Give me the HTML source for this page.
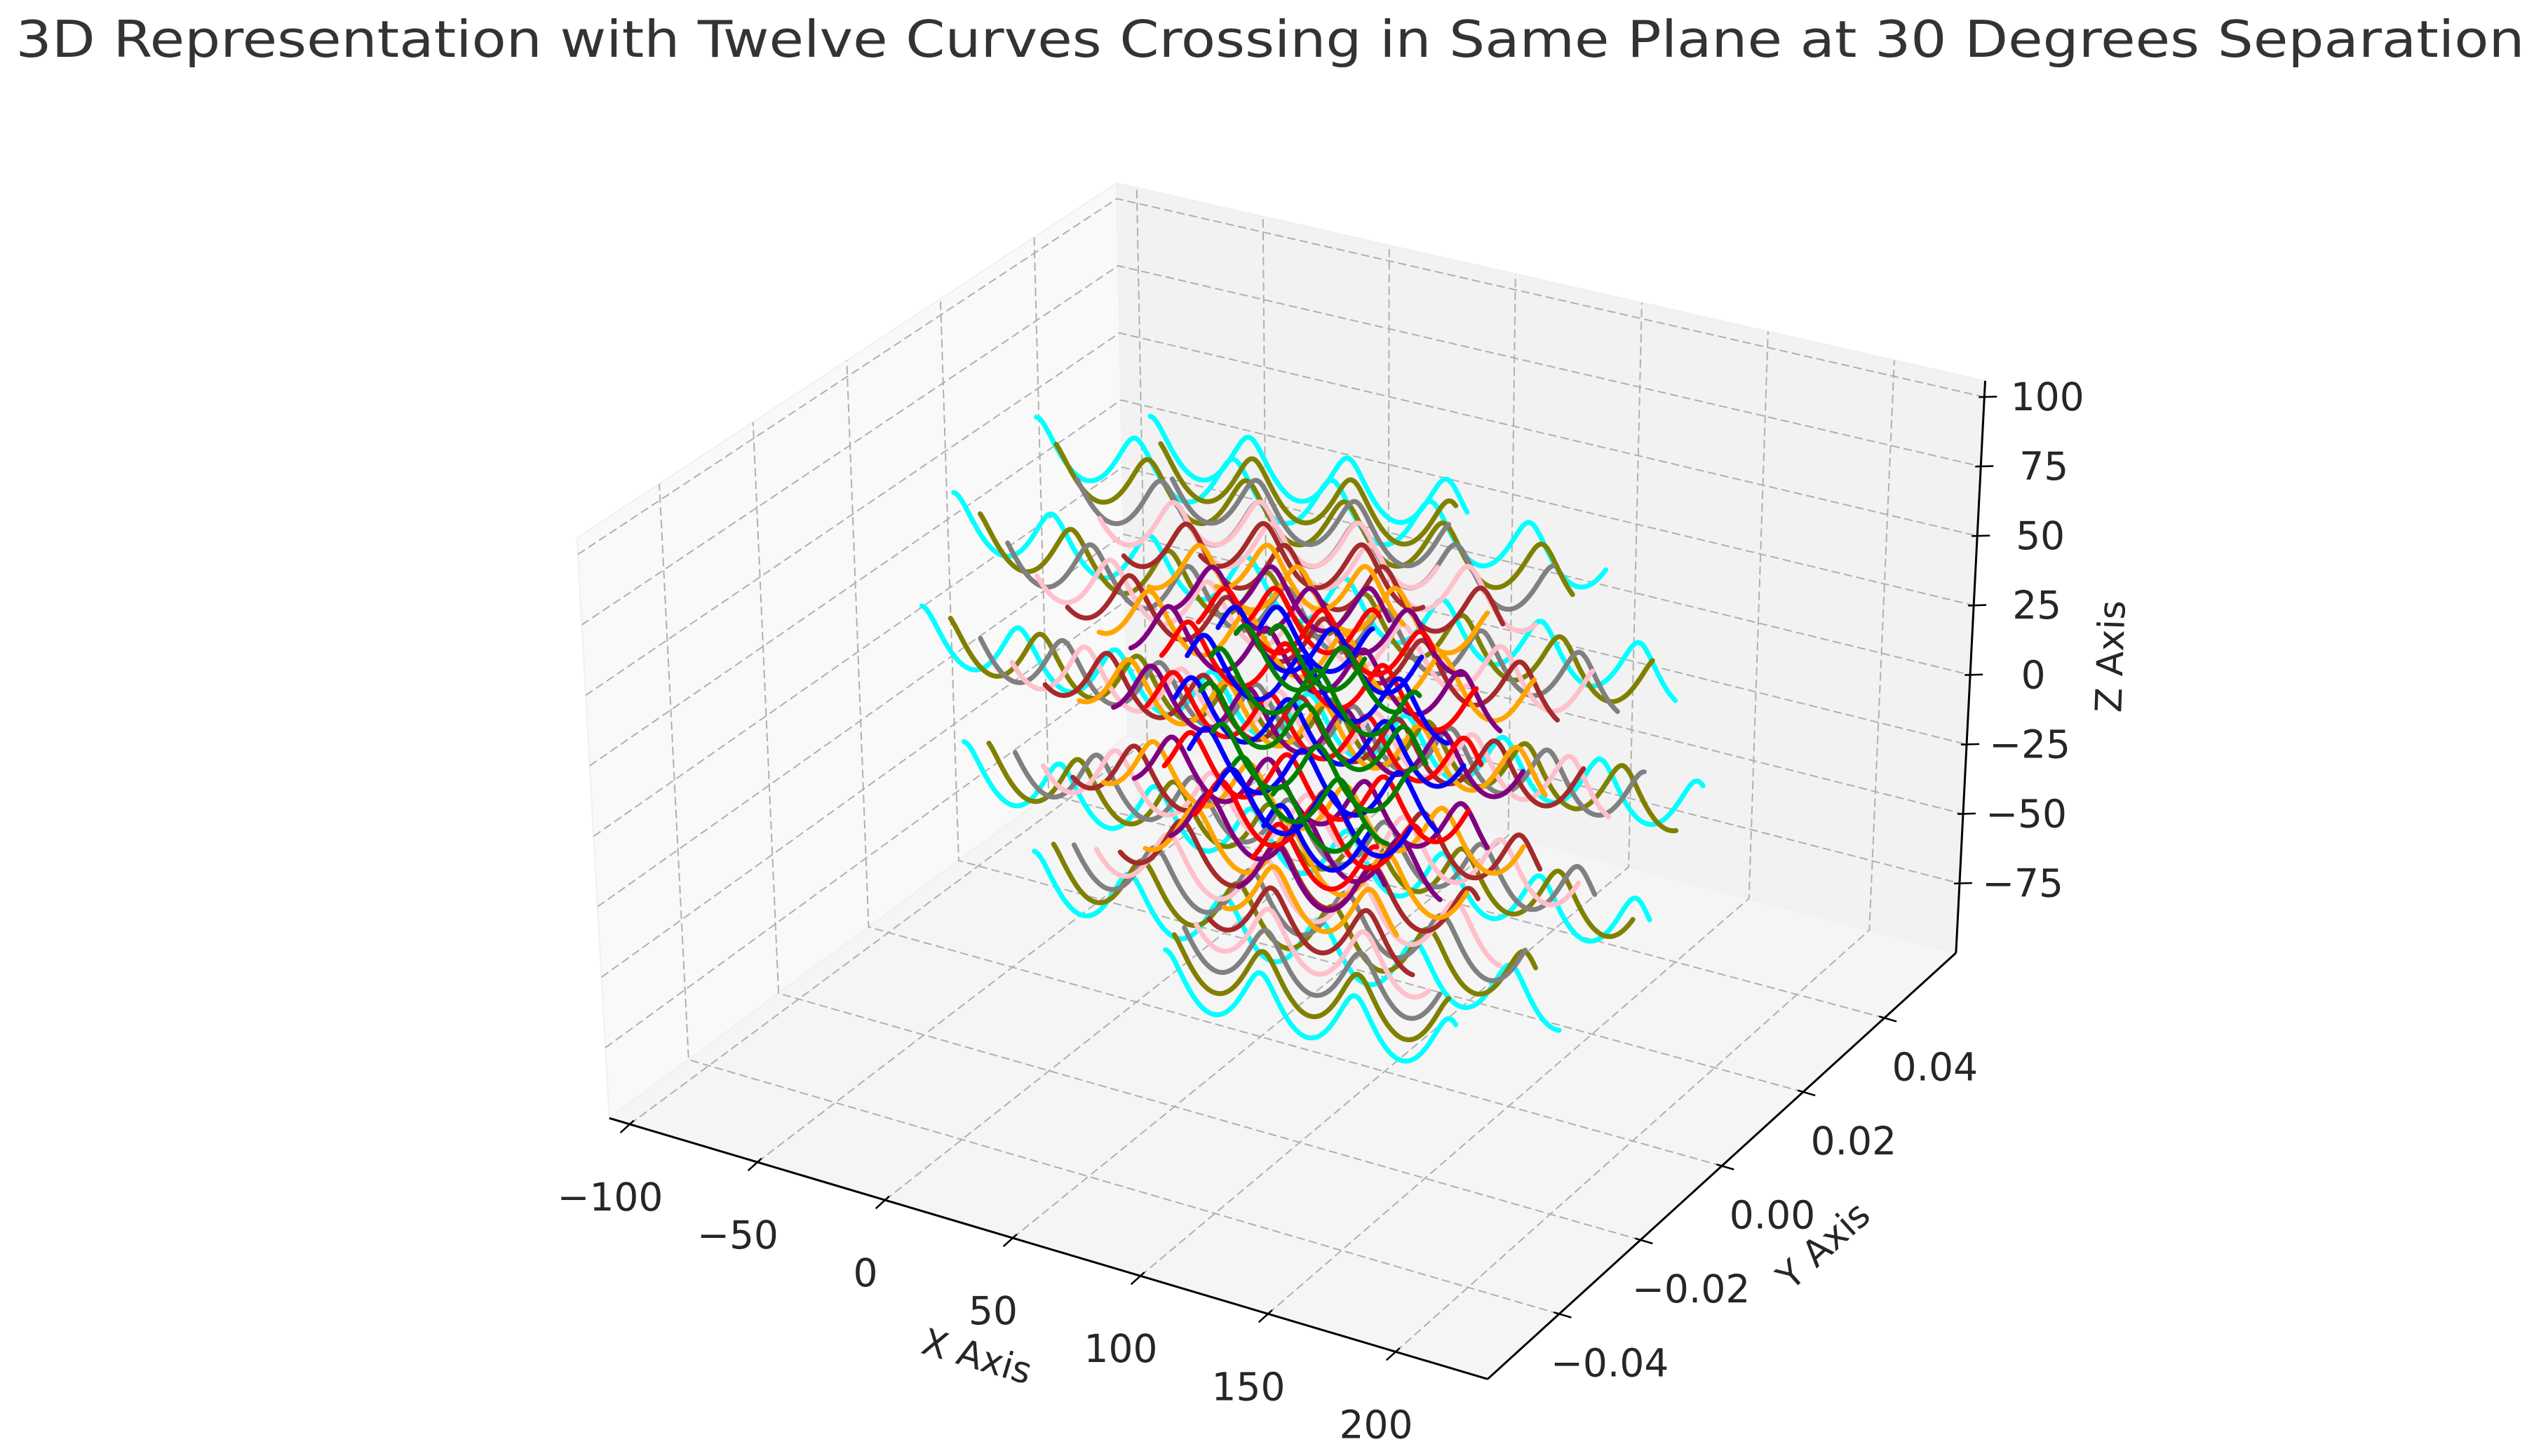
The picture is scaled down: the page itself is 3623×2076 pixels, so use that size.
<!DOCTYPE html>
<html>
<head>
<meta charset="utf-8">
<style>
  html, body { margin: 0; padding: 0; background: #ffffff; }
  svg { display: block; }
  text { font-family: "DejaVu Sans", "Liberation Sans", sans-serif; }
</style>
</head>
<body>
<svg id="chart" width="3623" height="2076" viewBox="0 0 3623 2076" xmlns="http://www.w3.org/2000/svg">
  <rect x="0" y="0" width="3623" height="2076" fill="#ffffff"/>
  <text x="1811" y="81" text-anchor="middle" font-size="72" fill="#333333" textLength="3577" lengthAdjust="spacingAndGlyphs">3D Representation with Twelve Curves Crossing in Same Plane at 30 Degrees Separation</text>
  <g id="panes"></g>
  <g id="grid"></g>
  <g id="axes"></g>
  <g id="curves"></g>
  <g id="labels"></g>
  <text x="1393" y="1952" text-anchor="middle" font-size="52" fill="#262626" transform="rotate(16.5 1393 1934)">X Axis</text>
  <text x="2599" y="1794" text-anchor="middle" font-size="52" fill="#262626" transform="rotate(-42 2599 1775)">Y Axis</text>
  <text x="3008" y="955" text-anchor="middle" font-size="52" fill="#262626" transform="rotate(-88 3008 936)">Z Axis</text>
</svg>
<script>
// ---- chart data ----
const xTicks = [-100, -50, 0, 50, 100, 150, 200];
const xTickLabels = ['\u2212100', '\u221250', '0', '50', '100', '150', '200'];
const yTicks = [-0.04, -0.02, 0.0, 0.02, 0.04];
const yTickLabels = ['\u22120.04', '\u22120.02', '0.00', '0.02', '0.04'];
const zTicks = [-75, -50, -25, 0, 25, 50, 75, 100];
const zTickLabels = ['\u221275', '\u221250', '\u221225', '0', '25', '50', '75', '100'];
const xLimits = [-108, 236];
const yLimits = [-0.0576, 0.0576];
const zLimits = [-100, 105.8];

const curveNames = ['cyan', 'olive', 'gray', 'pink', 'brown', 'orange', 'purple', 'red', 'blue', 'green'];
const curveColors = ['#00ffff', '#808000', '#808080', '#ffc0cb', '#a52a2a', '#ffa500', '#800080', '#ff0000', '#0000ff', '#008000'];
const curveSpread = [1.0, 0.92, 0.84, 0.76, 0.68, 0.6, 0.52, 0.44, 0.37, 0.3];
const lineZ = [93, 84, 50, 6, -40, -74, -98];
const lineHalf = [62, 109, 141, 154, 137, 105, 59];
const lineShift = [-1, 2, 1, 0, -2, -7, -1];
const centerX = 72;
const centerZ = 12;
const waveAmp = 9.5;
const wavePeriod = 38;

// ---- projection (box corners in px) ----
const NS = 'http://www.w3.org/2000/svg';
const corner = {
  '000': [868.8, 1594.3], '100': [2121.1, 1966.3], '110': [2788.9, 1358.6], '010': [1608.2, 1049.0],
  '001': [822.6, 767.1], '101': [2130.4, 1111.4], '111': [2830.5, 543.0], '011': [1592.0, 261.1]
};
function proj(x, y, z) {
  const u = (x - xLimits[0]) / (xLimits[1] - xLimits[0]);
  const v = (y - yLimits[0]) / (yLimits[1] - yLimits[0]);
  const w = (z - zLimits[0]) / (zLimits[1] - zLimits[0]);
  let px = 0, py = 0;
  for (const key in corner) {
    const a = key[0] === '1' ? u : 1 - u;
    const b = key[1] === '1' ? v : 1 - v;
    const c = key[2] === '1' ? w : 1 - w;
    const wt = a * b * c;
    px += wt * corner[key][0];
    py += wt * corner[key][1];
  }
  return [px, py];
}
function mk(tag, parent) {
  const el = document.createElementNS(NS, tag);
  parent.appendChild(el);
  return el;
}
function poly(pts) { return pts.map(p => p[0].toFixed(1) + ',' + p[1].toFixed(1)).join(' '); }

const X0 = xLimits[0], X1 = xLimits[1], Y0 = yLimits[0], Y1 = yLimits[1], Z0 = zLimits[0], Z1 = zLimits[1];

// panes
const panes = document.getElementById('panes');
const paneDefs = [
  ['left-pane', '#f9f9f9', [proj(X0,Y0,Z0), proj(X0,Y1,Z0), proj(X0,Y1,Z1), proj(X0,Y0,Z1)]],
  ['back-pane', '#f2f2f2', [proj(X0,Y1,Z0), proj(X1,Y1,Z0), proj(X1,Y1,Z1), proj(X0,Y1,Z1)]],
  ['floor-pane', '#f5f5f5', [proj(X0,Y0,Z0), proj(X1,Y0,Z0), proj(X1,Y1,Z0), proj(X0,Y1,Z0)]]
];
paneDefs.forEach(d => {
  const p = mk('polygon', panes);
  
  
  p.setAttribute('points', poly(d[2]));
  p.setAttribute('fill', d[1]);
  p.setAttribute('stroke', '#f0f0f0');
  p.setAttribute('stroke-width', '2');
});

// gridlines
const grid = document.getElementById('grid');
function gridLine(pts, name) {
  const l = mk('polyline', grid);
  
  
  l.setAttribute('points', poly(pts));
  l.setAttribute('fill', 'none');
  l.setAttribute('stroke', '#b0b0b0');
  l.setAttribute('stroke-width', '2');
  l.setAttribute('stroke-dasharray', '12 6');
}
xTicks.forEach(t => gridLine([proj(t,Y0,Z0), proj(t,Y1,Z0), proj(t,Y1,Z1)], 'x-gridline'));
yTicks.forEach(t => gridLine([proj(X1,t,Z0), proj(X0,t,Z0), proj(X0,t,Z1)], 'y-gridline'));
zTicks.forEach(t => gridLine([proj(X0,Y0,t), proj(X0,Y1,t), proj(X1,Y1,t)], 'z-gridline'));

// axes lines and ticks
const axes = document.getElementById('axes');
function axisLine(a, b, name) {
  const l = mk('line', axes);
  
  
  l.setAttribute('x1', a[0]); l.setAttribute('y1', a[1]);
  l.setAttribute('x2', b[0]); l.setAttribute('y2', b[1]);
  l.setAttribute('stroke', '#000000');
  l.setAttribute('stroke-width', '3');
}
axisLine(proj(X0,Y0,Z0), proj(X1,Y0,Z0), 'x-axis-line');
axisLine(proj(X1,Y0,Z0), proj(X1,Y1,Z0), 'y-axis-line');
axisLine(proj(X1,Y1,Z0), proj(X1,Y1,Z1), 'z-axis-line');

const labels = document.getElementById('labels');
function tickAndLabel(p, dir, off, txt, name) {
  const t = mk('line', axes);
  
  
  t.setAttribute('x1', p[0] - dir[0] * 8); t.setAttribute('y1', p[1] - dir[1] * 8);
  t.setAttribute('x2', p[0] + dir[0] * 18); t.setAttribute('y2', p[1] + dir[1] * 18);
  t.setAttribute('stroke', '#000000');
  t.setAttribute('stroke-width', '2.5');
  const s = mk('text', labels);
  
  
  s.setAttribute('x', (p[0] + off[0]).toFixed(1));
  s.setAttribute('y', (p[1] + off[1] + 19).toFixed(1));
  s.setAttribute('text-anchor', 'middle');
  s.setAttribute('font-size', '55');
  s.setAttribute('fill', '#262626');
  s.textContent = txt;
}
xTicks.forEach((t, i) => tickAndLabel(proj(t, Y0, Z0), [-0.74, 0.67], [-28, 104], xTickLabels[i], 'x-tick'));
yTicks.forEach((t, i) => tickAndLabel(proj(X1, t, Z0), [0.96, 0.28], [72, 70], yTickLabels[i], 'y-tick'));
zTicks.forEach((t, i) => tickAndLabel(proj(X1, Y1, t), [1, -0.03], [90, 0], zTickLabels[i], 'z-tick'));

// curves
const curves = document.getElementById('curves');
curveNames.forEach((nm, ci) => {
  const g = mk('g', curves);
  
  
  const s = curveSpread[ci];
  lineZ.forEach((lz, li) => {
    const half = lineHalf[li] * s;
    const xc = centerX + lineShift[li] * s;
    const zc = centerZ + lz * s;
    const pts = [];
    for (let t = -half; t <= half; t += 0.8) {
      const ph = 2 * Math.PI * (t + half) / wavePeriod + ci * 0.6;
      const x = xc + t - 2 * Math.sin(ph);
      const z = zc + 0.03 * t + waveAmp * Math.cos(ph);
      pts.push(proj(x, 0, z));
    }
    const p = mk('polyline', g);
    
    
    p.setAttribute('points', poly(pts));
    p.setAttribute('fill', 'none');
    p.setAttribute('stroke', curveColors[ci]);
    p.setAttribute('stroke-width', '7');
    p.setAttribute('stroke-linejoin', 'round');
    p.setAttribute('stroke-linecap', 'round');
  });
});
</script>
</body>
</html>
